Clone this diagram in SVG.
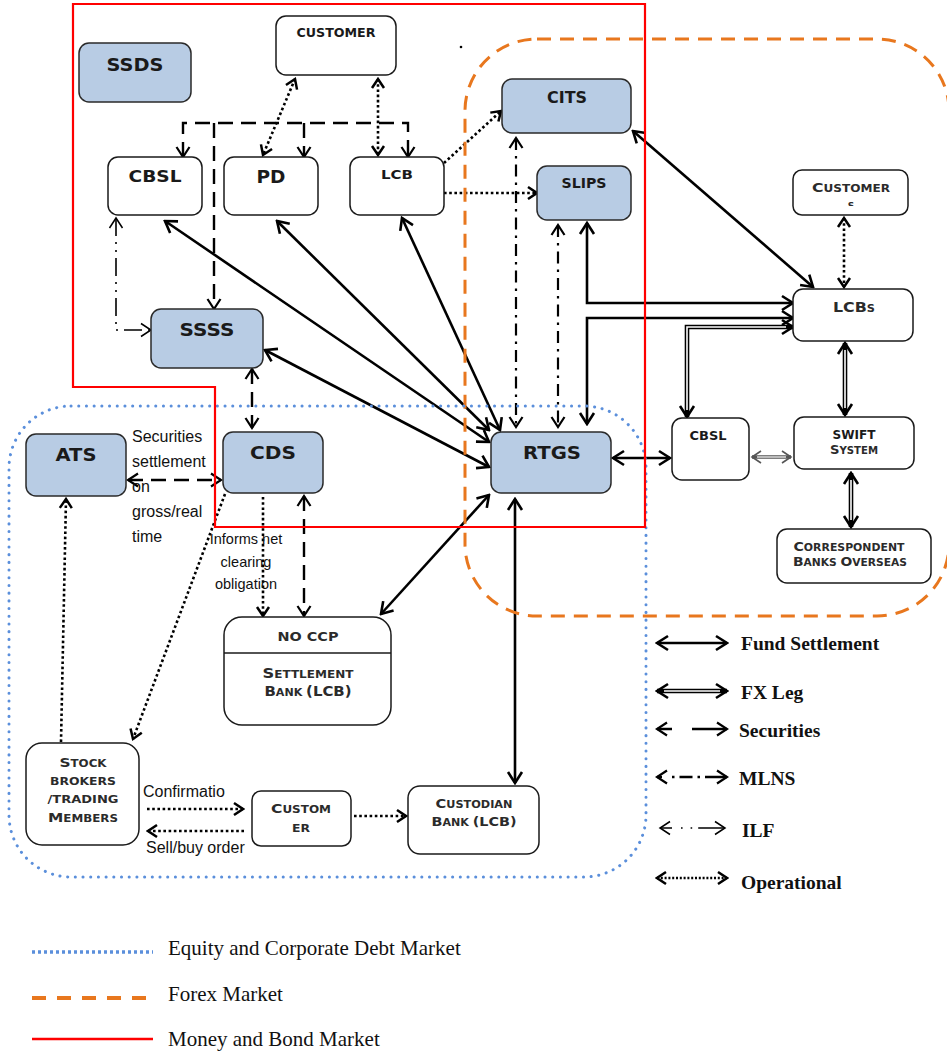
<svg xmlns="http://www.w3.org/2000/svg" width="947" height="1056" viewBox="0 0 947 1056">
  <style>
    .box { fill: #ffffff; stroke: #1a1a1a; stroke-width: 1.5; }
    .blue { fill: #b8cce4; stroke: #2a2a2a; stroke-width: 1.5; }
    .nl { font-family: "DejaVu Sans", sans-serif; font-weight: bold; fill: #1a1a1a; text-anchor: middle; }
    .sc { font-family: "DejaVu Sans", sans-serif; font-weight: bold; font-size: 10px; fill: #2b2b2b; text-anchor: middle; }
    .note { font-family: "Liberation Sans", Arial, sans-serif; font-size: 16px; fill: #111; }
    .note.sm { font-size: 14.5px; text-anchor: middle; }
    .leg { font-family: "Liberation Serif", "Times New Roman", serif; font-weight: bold; font-size: 19.5px; fill: #111; }
    .leg2 { font-family: "Liberation Serif", "Times New Roman", serif; font-size: 21px; fill: #111; }
    .fund { stroke: #000; stroke-width: 2.6; fill: none; }
    .sec { stroke: #000; stroke-width: 2.4; fill: none; stroke-dasharray: 15 8; }
    .mlns { stroke: #000; stroke-width: 2.2; fill: none; stroke-dasharray: 12 6 2.5 6; }
    .ilf { stroke: #000; stroke-width: 1.6; fill: none; stroke-dasharray: 18 6 2 6 2 6; }
    .op { stroke: #000; stroke-width: 2.6; fill: none; stroke-dasharray: 2.6 2.6; }
    .fxo { stroke: #000; stroke-width: 4.6; fill: none; }
    .fxi { stroke: #fff; stroke-width: 1.6; fill: none; }
  </style>
  <defs>
    <marker id="mF" viewBox="-14 -10 16 20" refX="0" refY="0" markerWidth="16" markerHeight="20" markerUnits="userSpaceOnUse" orient="auto-start-reverse">
      <path d="M-11,-7 L0,0 L-11,7" fill="none" stroke="#000" stroke-width="2.6"/>
    </marker>
    <marker id="mS" viewBox="-14 -10 16 20" refX="0" refY="0" markerWidth="16" markerHeight="20" markerUnits="userSpaceOnUse" orient="auto-start-reverse">
      <path d="M-10,-6.5 L0,0 L-10,6.5" fill="none" stroke="#000" stroke-width="2.2"/>
    </marker>
    <marker id="mO" viewBox="-14 -10 16 20" refX="0" refY="0" markerWidth="16" markerHeight="20" markerUnits="userSpaceOnUse" orient="auto-start-reverse">
      <path d="M-9,-6 L0,0 L-9,6" fill="none" stroke="#000" stroke-width="2.5"/>
    </marker>
    <marker id="mI" viewBox="-14 -10 16 20" refX="0" refY="0" markerWidth="16" markerHeight="20" markerUnits="userSpaceOnUse" orient="auto-start-reverse">
      <path d="M-10,-6.5 L0,0 L-10,6.5" fill="none" stroke="#000" stroke-width="1.5"/>
    </marker>
    <marker id="mXs" viewBox="-14 -10 16 20" refX="0" refY="0" markerWidth="16" markerHeight="20" markerUnits="userSpaceOnUse" orient="auto-start-reverse">
      <path d="M-9,-6 L0,0 L-9,6" fill="none" stroke="#555" stroke-width="1.6"/>
    </marker>
    <clipPath id="clipS"><rect x="830" y="190" width="40" height="16"/></clipPath>
  </defs>

  <rect width="947" height="1056" fill="#fff"/>

  <!-- connectors -->
  <g id="connectors">
    <!-- fund settlement -->
    <path class="fund" d="M165,221 L489,442" marker-start="url(#mF)" marker-end="url(#mF)"/>
    <path class="fund" d="M277,221 L489,430" marker-start="url(#mF)" marker-end="url(#mF)"/>
    <path class="fund" d="M402,218 L500,430" marker-start="url(#mF)" marker-end="url(#mF)"/>
    <path class="fund" d="M265,350 L489,467" marker-start="url(#mF)" marker-end="url(#mF)"/>
    <path class="fund" d="M633,131 L813,287" marker-start="url(#mF)" marker-end="url(#mF)"/>
    <path class="fund" d="M587,223 L587,303 L793,303" marker-start="url(#mF)" marker-end="url(#mF)"/>
    <path class="fund" d="M587,424 L587,318 L793,318" marker-start="url(#mF)" marker-end="url(#mF)"/>
    <path class="fund" d="M613,458 L670,458" marker-start="url(#mF)" marker-end="url(#mF)"/>
    <path class="fund" d="M489,495 L381,614" marker-start="url(#mF)" marker-end="url(#mF)"/>
    <path class="fund" d="M515,499 L515,783" marker-start="url(#mF)" marker-end="url(#mF)"/>

    <!-- FX leg (double line) -->
    <path class="fxo" d="M793,327 L687,327 L687,417" marker-start="url(#mF)" marker-end="url(#mF)"/>
    <path class="fxi" d="M786,327 L687,327 L687,410"/>
    <path class="fxo" d="M845,343 L845,415" marker-start="url(#mF)" marker-end="url(#mF)"/>
    <path class="fxi" d="M845,350 L845,408"/>
    <path class="fxo" d="M851,473 L851,527" marker-start="url(#mF)" marker-end="url(#mF)"/>
    <path class="fxi" d="M851,480 L851,520"/>
    <path d="M752,457 L791,457" stroke="#555" stroke-width="3.6" fill="none" marker-start="url(#mXs)" marker-end="url(#mXs)"/>
    <path d="M757,457 L786,457" stroke="#fff" stroke-width="1.2" fill="none"/>

    <!-- securities -->
    <path class="sec" d="M183,157 L183,123 L408,123 L408,157" marker-start="url(#mS)" marker-end="url(#mS)"/>
    <path class="sec" d="M304,123 L304,157" marker-end="url(#mS)"/>
    <path class="sec" d="M214,123 L214,309" marker-end="url(#mS)"/>
    <path class="sec" d="M252,369 L252,428" marker-start="url(#mS)" marker-end="url(#mS)"/>
    <path class="sec" d="M128,480 L221,480" marker-start="url(#mS)" marker-end="url(#mS)"/>
    <path class="sec" d="M304,496 L304,616" marker-start="url(#mS)" marker-end="url(#mS)"/>

    <!-- MLNS -->
    <path class="mlns" d="M516,138 L516,427" marker-start="url(#mS)" marker-end="url(#mS)"/>
    <path class="mlns" d="M558,225 L558,427" marker-start="url(#mS)" marker-end="url(#mS)"/>

    <!-- ILF -->
    <path class="ilf" d="M116,218 L116,330 L151,330" marker-start="url(#mI)" marker-end="url(#mI)"/>

    <!-- operational -->
    <path class="op" d="M295,79 L263,155" marker-start="url(#mO)" marker-end="url(#mO)"/>
    <path class="op" d="M378,79 L378,155" marker-start="url(#mO)" marker-end="url(#mO)"/>
    <path class="op" d="M444,163 L501,111" marker-end="url(#mO)"/>
    <path class="op" d="M444,193 L537,193" marker-end="url(#mO)"/>
    <path class="op" d="M844,218 L844,287" marker-start="url(#mO)" marker-end="url(#mO)"/>
    <path class="op" d="M263,497 L263,616" marker-end="url(#mO)"/>
    <path class="op" d="M225,494 L133,739" marker-end="url(#mO)"/>
    <path class="op" d="M61,742 L66,499" marker-end="url(#mO)"/>
    <path class="op" d="M147,809 L243,809" marker-end="url(#mO)"/>
    <path class="op" d="M244,831 L148,831" marker-end="url(#mO)"/>
    <path class="op" d="M354,816 L406,816" marker-end="url(#mO)"/>
  </g>

  <!-- market boundaries -->
  <g id="regions" fill="none">
    <rect x="465" y="39" width="484" height="577" rx="72" stroke="#e8771e" stroke-width="3" stroke-dasharray="14 9"/>
    <rect x="9" y="406" width="637" height="471" rx="62" stroke="#5b8fdb" stroke-width="3" stroke-linecap="round" stroke-dasharray="0.1 7.6"/>
    <path d="M73,4 L645,4 L645,527 L215,527 L215,387 L73,387 Z" stroke="#ff0000" stroke-width="2.2"/>
  </g>

  <circle cx="461" cy="47" r="1.3" fill="#000"/>

  <!-- nodes -->
  <g id="node-ssds">
    <rect class="blue" x="79" y="43" width="112" height="59" rx="10"/>
    <text class="nl" x="135" y="71" font-size="18" textLength="57" lengthAdjust="spacingAndGlyphs">SSDS</text>
  </g>
  <g id="node-customer">
    <rect class="box" x="276" y="16" width="120" height="59" rx="10"/>
    <text class="nl" x="336" y="37" font-size="11.5" textLength="79" lengthAdjust="spacingAndGlyphs">CUSTOMER</text>
  </g>
  <g id="node-cbsl">
    <rect class="box" x="108" y="157" width="94" height="58" rx="10"/>
    <text class="nl" x="155" y="182" font-size="15" textLength="53" lengthAdjust="spacingAndGlyphs">CBSL</text>
  </g>
  <g id="node-pd">
    <rect class="box" x="224" y="157" width="94" height="58" rx="10"/>
    <text class="nl" x="271" y="183" font-size="18" textLength="29" lengthAdjust="spacingAndGlyphs">PD</text>
  </g>
  <g id="node-lcb">
    <rect class="box" x="350" y="157" width="94" height="58" rx="10"/>
    <text class="nl" x="397" y="179" font-size="13" textLength="32" lengthAdjust="spacingAndGlyphs">LCB</text>
  </g>
  <g id="node-cits">
    <rect class="blue" x="502" y="79" width="129" height="54" rx="10"/>
    <text class="nl" x="567" y="103" font-size="15" textLength="40" lengthAdjust="spacingAndGlyphs">CITS</text>
  </g>
  <g id="node-slips">
    <rect class="blue" x="537" y="166" width="94" height="54" rx="10"/>
    <text class="nl" x="584" y="188" font-size="14" textLength="45" lengthAdjust="spacingAndGlyphs">SLIPS</text>
  </g>
  <g id="node-customers">
    <rect class="box" x="793" y="170" width="115" height="45" rx="9"/>
    <text class="sc" x="851" y="192" textLength="78" lengthAdjust="spacingAndGlyphs"><tspan font-size="13">C</tspan>USTOMER</text>
    <text class="sc" x="851" y="209" style="font-size:9px" clip-path="url(#clipS)">S</text>
  </g>
  <g id="node-lcbs">
    <rect class="box" x="793" y="289" width="120" height="52" rx="10"/>
    <text class="sc" x="854" y="312" textLength="42" lengthAdjust="spacingAndGlyphs"><tspan font-size="14">LCB</tspan>S</text>
  </g>
  <g id="node-ssss">
    <rect class="blue" x="151" y="309" width="112" height="59" rx="10"/>
    <text class="nl" x="207" y="336" font-size="18" textLength="55" lengthAdjust="spacingAndGlyphs">SSSS</text>
  </g>
  <g id="node-ats">
    <rect class="blue" x="26" y="434" width="100" height="62" rx="10"/>
    <text class="nl" x="76" y="461" font-size="18" textLength="41" lengthAdjust="spacingAndGlyphs">ATS</text>
  </g>
  <g id="node-cds">
    <rect class="blue" x="223" y="432" width="100" height="61" rx="10"/>
    <text class="nl" x="273" y="459" font-size="18" textLength="46" lengthAdjust="spacingAndGlyphs">CDS</text>
  </g>
  <g id="node-rtgs">
    <rect class="blue" x="491" y="432" width="120" height="61" rx="10"/>
    <text class="nl" x="552" y="459" font-size="18" textLength="58" lengthAdjust="spacingAndGlyphs">RTGS</text>
  </g>
  <g id="node-cbsl-fx">
    <rect class="box" x="672" y="418" width="77" height="62" rx="10"/>
    <text class="nl" x="708" y="440" font-size="13" textLength="37" lengthAdjust="spacingAndGlyphs">CBSL</text>
  </g>
  <g id="node-swift">
    <rect class="box" x="794" y="417" width="120" height="52" rx="10"/>
    <text class="nl" x="854" y="439" font-size="13" textLength="43" lengthAdjust="spacingAndGlyphs">SWIFT</text>
    <text class="sc" x="854" y="454" textLength="48" lengthAdjust="spacingAndGlyphs"><tspan font-size="13">S</tspan>YSTEM</text>
  </g>
  <g id="node-correspondent">
    <rect class="box" x="777" y="529" width="154" height="54" rx="10"/>
    <text class="sc" x="849" y="551" textLength="111" lengthAdjust="spacingAndGlyphs"><tspan font-size="13">C</tspan>ORRESPONDENT</text>
    <text class="sc" x="850" y="566" textLength="114" lengthAdjust="spacingAndGlyphs"><tspan font-size="13">B</tspan>ANKS <tspan font-size="13">O</tspan>VERSEAS</text>
  </g>
  <g id="node-settlement-bank">
    <rect class="box" x="224" y="617" width="167" height="108" rx="18"/>
    <line x1="224" y1="653" x2="391" y2="653" stroke="#1a1a1a" stroke-width="1.5"/>
    <text class="sc" x="308" y="641" style="font-size:13px" textLength="61" lengthAdjust="spacingAndGlyphs">NO CCP</text>
    <text class="sc" x="308" y="678" textLength="91" lengthAdjust="spacingAndGlyphs"><tspan font-size="13.5">S</tspan>ETTLEMENT</text>
    <text class="sc" x="308" y="696" textLength="87" lengthAdjust="spacingAndGlyphs"><tspan font-size="13.5">B</tspan>ANK <tspan font-size="13.5">(LCB)</tspan></text>
  </g>
  <g id="node-stock-brokers">
    <rect class="box" x="26" y="743" width="113" height="102" rx="16"/>
    <text class="sc" x="83" y="767" textLength="47" lengthAdjust="spacingAndGlyphs"><tspan font-size="13">S</tspan>TOCK</text>
    <text class="sc" x="83" y="785" textLength="66" lengthAdjust="spacingAndGlyphs">BROKERS</text>
    <text class="sc" x="83" y="803" textLength="71" lengthAdjust="spacingAndGlyphs">/TRADING</text>
    <text class="sc" x="83" y="822" textLength="70" lengthAdjust="spacingAndGlyphs"><tspan font-size="13">M</tspan>EMBERS</text>
  </g>
  <g id="node-customer-low">
    <rect class="box" x="252" y="791" width="99" height="55" rx="9"/>
    <text class="sc" x="301" y="813" textLength="60" lengthAdjust="spacingAndGlyphs"><tspan font-size="13">C</tspan>USTOM</text>
    <text class="sc" x="301" y="832" textLength="18" lengthAdjust="spacingAndGlyphs">ER</text>
  </g>
  <g id="node-custodian">
    <rect class="box" x="408" y="786" width="131" height="68" rx="12"/>
    <text class="sc" x="474" y="808" textLength="77" lengthAdjust="spacingAndGlyphs"><tspan font-size="13">C</tspan>USTODIAN</text>
    <text class="sc" x="474" y="826" textLength="85" lengthAdjust="spacingAndGlyphs"><tspan font-size="13">B</tspan>ANK <tspan font-size="13">(LCB)</tspan></text>
  </g>

  <!-- connector notes -->
  <g id="notes">
    <text class="note" x="132" y="442">Securities</text>
    <text class="note" x="132" y="467">settlement</text>
    <text class="note" x="132" y="492">on</text>
    <text class="note" x="132" y="517">gross/real</text>
    <text class="note" x="132" y="542">time</text>
    <text class="note sm" x="246" y="544">Informs net</text>
    <text class="note sm" x="246" y="567">clearing</text>
    <text class="note sm" x="246" y="589">obligation</text>
    <text class="note" x="143" y="797">Confirmatio</text>
    <text class="note" x="146" y="853">Sell/buy order</text>
  </g>

  <!-- legend -->
  <g id="legend">
    <path class="fund" d="M657,643 L727,643" stroke-width="3" marker-start="url(#mF)" marker-end="url(#mF)"/>
    <text class="leg" x="741" y="650">Fund Settlement</text>

    <path class="fxo" d="M657,691 L727,691" marker-start="url(#mF)" marker-end="url(#mF)"/>
    <path class="fxi" d="M664,691 L720,691"/>
    <text class="leg" x="741" y="699">FX Leg</text>

    <path d="M657,729 L727,729" stroke="#000" stroke-width="2.6" fill="none" stroke-dasharray="15 20 40" marker-start="url(#mS)" marker-end="url(#mS)"/>
    <text class="leg" x="739" y="737">Securities</text>

    <path d="M657,777 L727,777" stroke="#000" stroke-width="2.4" fill="none" stroke-dasharray="5 10 2.5 5 13 5 2.5 5 30" marker-start="url(#mS)" marker-end="url(#mS)"/>
    <text class="leg" x="739" y="785">MLNS</text>

    <path d="M660,828 L725,828" stroke="#000" stroke-width="1.6" fill="none" stroke-dasharray="12 9 1.6 8 1.6 6 40" marker-start="url(#mI)" marker-end="url(#mI)"/>
    <text class="leg" x="742" y="837">ILF</text>

    <path d="M657,878 L727,878" stroke="#000" stroke-width="2.6" fill="none" stroke-dasharray="2 1.8" marker-start="url(#mO)" marker-end="url(#mO)"/>
    <text class="leg" x="741" y="889">Operational</text>

    <line x1="32" y1="952" x2="153" y2="952" stroke="#5b8fdb" stroke-width="3.5" stroke-dasharray="3 3"/>
    <text class="leg2" x="168" y="955">Equity and Corporate Debt Market</text>
    <line x1="32" y1="998" x2="153" y2="998" stroke="#e8771e" stroke-width="4" stroke-dasharray="14 11"/>
    <text class="leg2" x="168" y="1001">Forex Market</text>
    <line x1="32" y1="1039" x2="153" y2="1039" stroke="#ff0000" stroke-width="2.5"/>
    <text class="leg2" x="168" y="1046">Money and Bond Market</text>
  </g>
</svg>
